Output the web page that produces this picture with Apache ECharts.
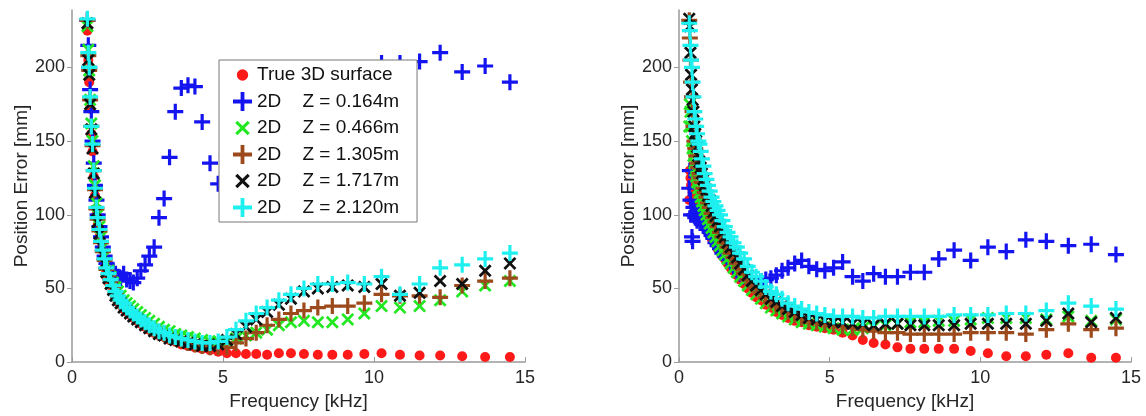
<!DOCTYPE html>
<html><head><meta charset="utf-8">
<script src="https://cdn.jsdelivr.net/npm/echarts@6/dist/echarts.min.js"></script>
<style>html,body{margin:0;padding:0;background:#fff}#c{width:1146px;height:416px}</style>
</head><body><div id="c"></div>
<script>
// ---------- DATA ----------
const seriesNames = ['True 3D surface', '2D    Z = 0.164m', '2D    Z = 0.466m', '2D    Z = 1.305m', '2D    Z = 1.717m', '2D    Z = 2.120m'];
const xTicks = [0, 5, 10, 15];
const yTicks = [0, 50, 100, 150, 200];

const freqL = [0.51,0.54,0.57,0.60,0.64,0.68,0.72,0.76,0.81,0.85,0.91,0.96,1.02,1.08,1.14,1.21,1.28,1.36,1.44,1.52,1.61,1.71,1.81,1.92,2.03,2.16,2.28,2.42,2.56,2.72,2.88,3.05,3.23,3.42,3.62,3.84,4.07,4.31,4.57,4.84,5.13,5.43,5.76,6.10,6.46,6.85,7.25,7.68,8.14,8.62,9.13,9.68,10.25,10.86,11.51,12.19,12.92,13.68,14.50];
const freqR = [0.34,0.36,0.38,0.40,0.43,0.45,0.48,0.51,0.54,0.57,0.60,0.64,0.68,0.72,0.76,0.81,0.85,0.91,0.96,1.02,1.08,1.14,1.21,1.28,1.36,1.44,1.52,1.61,1.71,1.81,1.92,2.03,2.16,2.28,2.42,2.56,2.72,2.88,3.05,3.23,3.42,3.62,3.84,4.07,4.31,4.57,4.84,5.13,5.43,5.76,6.10,6.46,6.85,7.25,7.68,8.14,8.62,9.13,9.68,10.25,10.86,11.51,12.19,12.92,13.68,14.50];

// Left panel
const leftRed   = [225,205,190,172,155,143,126,113,100,93, 85,77,70,64,58,54,52,48,44,41, 39,36,34,32,30,28,26,24,22,20, 18,17,15,14,12,11,10,9,8,7, 6,6,5.5,5.5,5,6,6,5.5,5,5, 5,5.5,6,5,4.5,4.5,4,3.5,3.5];
const leftBlue  = [232,215,200,185,170,150,135,120,110,100, 92,85,78,72,67,63,60,62,60,58, 57,60,56,55,54,57,62,66,72,78, 98,111,139,170,186,188,187,163,135,121, 140,160,172,180,185,188,190,192,193,192, 194,196,203,203,204,210,197,201,190];
const leftGreen = [228,212,198,178,162,150,133,120,108,100, 92,85,78,72,67,62,58,54,51,48, 45,42,40,38,36,34,32,30,28,26, 24,22,21,19,18,17,16,15,14,14, 14,16,18,20,22,25,27,28,27,27, 29,33,38,37,38,42,48,52,55];
const leftBrown = [232,208,198,178,160,147,130,117,104,97, 89,81,75,69,63,59,55,51,47,44, 41,39,36,34,32,30,28,26,24,22, 20,19,17,16,15,13,12,11,10,10, 10,13,16,20,25,29,33,35,37,38, 38,40,46,45,45,44,52,55,57];
const leftBlack = [230,205,195,175,158,145,128,115,102,95, 87,79,73,67,61,57,53,49,45,42, 40,37,35,33,31,29,27,25,23,21, 19,18,16,15,14,13,12,11,11,12, 15,19,24,29,34,39,43,48,50,51, 52,51,53,45,47,55,53,62,67];
const leftCyan  = [233,210,200,180,160,148,130,118,105,98, 90,82,76,70,64,60,56,52,48,45, 42,40,37,35,33,31,29,27,25,23, 21,20,18,17,16,15,14,13,13,14, 17,22,28,33,37,42,46,50,53,53, 54,53,58,46,53,64,66,70,74];

// Right panel
const rightRed   = [110,130,125,120,118,115,112, 110,108,106,104,102,100,98,96,94,92, 90,88,86,84,82,80,77,75,72,70, 67,64,62,59,56,53,50,47,44,42, 39,37,34,32,30,28,27,25,24,23, 22,20,18,15,13,12,10,9,9,9, 9,7.5,6,4,4,5,6,3,3];
const rightBlue  = [118,130,110,100,85,82,105, 100,98,102,96,100,97,95,96,93,94, 90,91,88,86,84,81,79,77,74,72, 70,68,65,62,60,58,56,54,53,55, 56,57,59,62,64,67,69,65,63,62, 64,68,58,55,60,58,58,61,61,70, 76,69,78,75,83,82,79,80,73];
const rightGreen = [160,175,170,160,150,145,140, 135,130,126,122,118,115,112,109,106,103, 100,97,94,91,88,85,82,79,76,73, 70,67,64,61,58,55,52,49,46,43, 40,37,35,33,31,29,27,26,25,24, 23,22,22,23,24,25,26,27,27,28, 28,29,30,30,30,29,31,28,29];
const rightBrown = [232,220,205,190,180,170,160, 150,145,140,135,132,128,125,122,118,115, 112,108,105,101,98,95,92,88,85,81, 78,74,71,67,64,60,56,53,50,47, 44,41,38,36,34,32,30,28,27,26, 25,24,23,22,21,20,20,19,19,19, 19,20,20,20,19,22,26,22,23];
const rightBlack = [233,228,210,195,185,178,170, 160,155,150,146,140,136,132,128,124,120, 117,113,110,106,102,99,96,92,88,85, 81,78,74,71,67,63,59,55,52,49, 46,43,41,38,36,34,32,30,29,28, 27,27,26,26,25,26,26,25,25,25, 25,26,26,26,26,28,33,27,30];
const rightCyan  = [230,225,215,205,200,190,180, 170,165,160,155,150,148,143,138,133,128, 124,120,116,112,109,106,103,100,96,92, 88,85,81,78,74,70,65,61,58,55, 51,48,46,43,40,38,36,34,33,32, 31,31,31,30,30,31,31,31,31,31, 32,32,32,33,33,35,40,38,36];

// ---------- STYLE ----------
const FONT = "'Liberation Sans', Arial, sans-serif";
const TXT = '#262626';
const AX = '#9a9a9a';
const colors = ['#ff1a1a', '#1414f0', '#22e822', '#9c4a1c', '#111111', '#1ef0f0'];
const PLUS = 'path://M4,0H6V4H10V6H6V10H4V6H0V4H4Z';
const CROSS = 'path://M1.5,0L5,3.5L8.5,0L10,1.5L6.5,5L10,8.5L8.5,10L5,6.5L1.5,10L0,8.5L3.5,5L0,1.5Z';
const DOT_ICON = 'path://M0,0M20,20M16,10A6,6,0,1,1,4,10A6,6,0,1,1,16,10Z';
const CROSS_ICON = 'path://M-1.5,-1.5M11.5,11.5M1.5,0L5,3.5L8.5,0L10,1.5L6.5,5L10,8.5L8.5,10L5,6.5L1.5,10L0,8.5L3.5,5L0,1.5Z';
const symbols = ['circle', PLUS, CROSS, PLUS, CROSS, PLUS];
const sizes = [10, 16, 13, 16, 13, 16];
const icons = [DOT_ICON, PLUS, CROSS_ICON, PLUS, CROSS_ICON, PLUS];

const zip = (xs, ys) => xs.map((x, i) => [x, ys[i]]);
const leftSets = [leftRed, leftBlue, leftGreen, leftBrown, leftBlack, leftCyan];
const rightSets = [rightRed, rightBlue, rightGreen, rightBrown, rightBlack, rightCyan];

function xAxis(gi) {
  return {
    gridIndex: gi, type: 'value', min: 0, max: 15, interval: 5,
    axisLine: { show: true, lineStyle: { color: AX, width: 1.5 } },
    axisTick: { show: true, inside: true, length: 5, lineStyle: { color: AX } },
    axisLabel: { color: TXT, fontSize: 18, margin: 7, fontFamily: FONT, customValues: xTicks },
    splitLine: { show: false },
    name: 'Frequency [kHz]', nameLocation: 'middle', nameGap: 25,
    nameTextStyle: { color: TXT, fontSize: 19, fontFamily: FONT }
  };
}
function yAxis(gi, gap) {
  return {
    gridIndex: gi, type: 'value', min: 0, max: 239, interval: 50,
    axisLine: { show: true, lineStyle: { color: AX, width: 1.5 } },
    axisTick: { show: true, inside: false, length: 5, lineStyle: { color: AX }, customValues: yTicks },
    axisLabel: { color: TXT, fontSize: 18, margin: 7, fontFamily: FONT, customValues: yTicks,
      formatter: v => (v % 50 === 0 ? String(v) : '') },
    splitLine: { show: false },
    name: 'Position Error [mm]', nameLocation: 'middle', nameGap: gap, nameRotate: 90,
    nameTextStyle: { color: TXT, fontSize: 19, fontFamily: FONT }
  };
}

const series = [];
[leftSets, rightSets].forEach((sets, gi) => {
  const fx = gi === 0 ? freqL : freqR;
  sets.forEach((ys, k) => {
    series.push({
      type: 'scatter', name: seriesNames[k], xAxisIndex: gi, yAxisIndex: gi,
      data: zip(fx, ys), symbol: symbols[k], symbolSize: sizes[k],
      itemStyle: { color: colors[k], opacity: 1 }, silent: true, z: 2 + k * 0.01
    });
  });
});

const chart = echarts.init(document.getElementById('c'), null, { renderer: 'canvas' });
chart.setOption({
  backgroundColor: '#ffffff',
  animation: false,
  grid: [
    { left: 72, top: 10, width: 453, height: 356 },
    { left: 679, top: 10, width: 452, height: 356 }
  ],
  xAxis: [xAxis(0), xAxis(1)],
  yAxis: [yAxis(0, 40), yAxis(1, 33)],
  legend: {
    orient: 'vertical', left: 219, top: 60, padding: [5.5, 18, 5, 14],
    itemGap: 7.5, itemWidth: 19, itemHeight: 19, selectedMode: false,
    backgroundColor: '#ffffff', borderColor: '#777777', borderWidth: 1, z: 10,
    textStyle: { color: '#111', fontSize: 19, fontFamily: FONT },
    data: seriesNames.map((n, k) => ({ name: n, icon: icons[k], itemStyle: { color: colors[k] } }))
  },
  series: series
});
</script>
</body></html>
